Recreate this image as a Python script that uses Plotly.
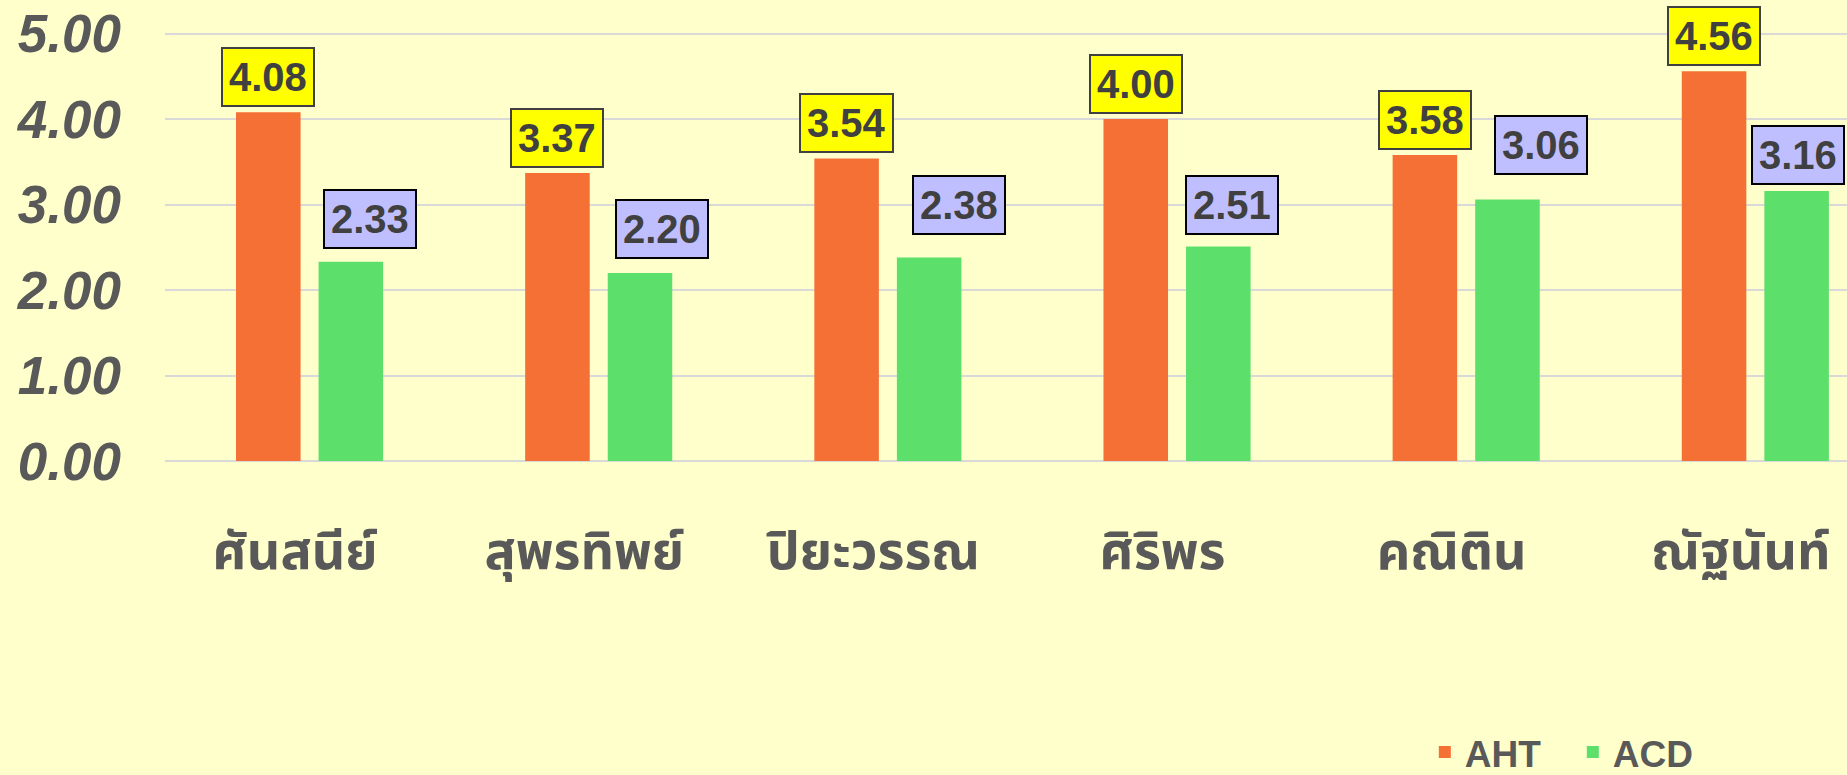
import plotly.graph_objects as go

categories = ["ศันสนีย์", "สุพรทิพย์", "ปิยะวรรณ", "ศิริพร", "คณิติน", "ณัฐนันท์"]
aht = [4.08, 3.37, 3.54, 4.00, 3.58, 4.56]
acd = [2.33, 2.20, 2.38, 2.51, 3.06, 3.16]

# label placement tweaks (pixels) for the ACD callouts
acd_xshift = [19, 22, 30, 14, 34, 1]
acd_yshift = [13, 14, 23, 11, 24, 6]

BG = "#FFFFCC"
ORANGE = "#F47035"
GREEN = "#5DE06B"
TXT = "#595959"
LBL = "#404040"
NUMFONT = "Liberation Sans, Arial, sans-serif"
THAIFONT = "Noto Sans Thai, Noto Sans Thai UI, Noto Sans, Liberation Sans, sans-serif"

xpos = list(range(len(categories)))

fig = go.Figure()
fig.add_trace(go.Bar(x=xpos, y=aht, name="AHT", marker=dict(color=ORANGE, line=dict(width=0))))
fig.add_trace(go.Bar(x=xpos, y=acd, name="ACD", marker=dict(color=GREEN, line=dict(width=0))))

bargap = 0.429
half_slot = (1 - bargap) / 4

annotations = []
for i, v in enumerate(aht):
    annotations.append(dict(
        x=i - half_slot, y=v, xref="x", yref="y", text=f"<b>{v:.2f}</b>",
        showarrow=False, yanchor="bottom", xanchor="center", yshift=5,
        font=dict(family=NUMFONT, size=40, color=LBL),
        bgcolor="#FFFF00", bordercolor="#404040", borderwidth=2, borderpad=6,
    ))
for i, v in enumerate(acd):
    annotations.append(dict(
        x=i + half_slot, y=v, xref="x", yref="y", text=f"<b>{v:.2f}</b>",
        showarrow=False, yanchor="bottom", xanchor="center",
        xshift=acd_xshift[i], yshift=acd_yshift[i],
        font=dict(family=NUMFONT, size=40, color=LBL),
        bgcolor="#BFBFFF", bordercolor="#000000", borderwidth=2, borderpad=6,
    ))

fig.update_layout(
    width=1847, height=775,
    paper_bgcolor=BG, plot_bgcolor=BG,
    margin=dict(l=165, r=0, t=8, b=314, autoexpand=False),
    barmode="group", bargap=bargap, bargroupgap=0.218,
    showlegend=True,
    legend=dict(orientation="h", x=0.749, y=-0.712, xanchor="left", yanchor="bottom",
                font=dict(family=NUMFONT, size=37, color=TXT, weight="bold"),
                bgcolor="rgba(0,0,0,0)", entrywidth=103, entrywidthmode="pixels"),
    annotations=annotations,
    xaxis=dict(range=[-0.5, 5.317], showgrid=False, showline=False, ticks="",
               zeroline=False,
               tickmode="array", tickvals=[i - 0.05 for i in xpos], ticktext=categories,
               tickfont=dict(family=THAIFONT, size=52, color=TXT, weight="bold"),
               ticklabelstandoff=55),
    yaxis=dict(range=[0, 5.3], dtick=1, tickformat=".2f", showgrid=True,
               gridcolor="#D9D9D9", gridwidth=2, zeroline=True, zerolinecolor="#D9D9D9",
               zerolinewidth=2, showline=False, ticks="",
               tickfont=dict(family=NUMFONT, size=53, color=TXT, weight="bold", style="italic"),
               ticklabelstandoff=43),
)

fig.write_html("out.html", config={"displayModeBar": False},
               post_script="document.body.style.margin='0';document.body.style.background='#FFFFCC';")
